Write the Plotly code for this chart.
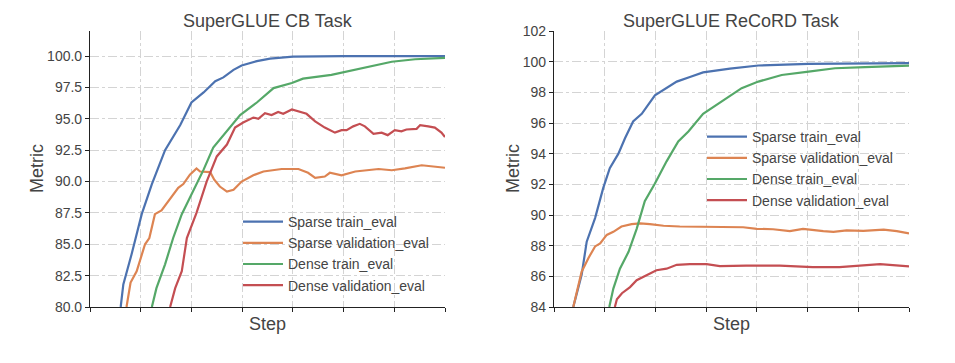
import plotly.graph_objects as go

# ---------------- data (x in grid-step units; step labels hidden) ----------------
cb_sparse_train_x = [0.605, 0.657, 0.82, 1.02, 1.22, 1.48, 1.78, 2.0, 2.24, 2.47, 2.63, 2.83, 2.99, 3.29, 3.55, 4.0, 5.0, 6.0, 7.0]
cb_sparse_train_y = [80.0, 81.8, 84.2, 87.4, 89.8, 92.5, 94.5, 96.3, 97.1, 98.0, 98.3, 98.9, 99.25, 99.6, 99.8, 99.95, 100.0, 100.0, 100.0]

cb_sparse_val_x = [0.72, 0.80, 0.92, 1.02, 1.085, 1.17, 1.28, 1.41, 1.58, 1.74, 1.84, 1.97, 2.10, 2.17, 2.37, 2.45, 2.56, 2.70, 2.83, 2.99, 3.22, 3.42, 3.78, 4.11, 4.30, 4.44, 4.63, 4.73, 4.96, 5.23, 5.69, 5.95, 6.21, 6.54, 7.0]
cb_sparse_val_y = [80.0, 81.95, 82.85, 84.2, 85.0, 85.5, 87.4, 87.7, 88.6, 89.5, 89.8, 90.55, 91.05, 90.8, 90.75, 90.15, 89.6, 89.2, 89.35, 90.0, 90.5, 90.8, 91.0, 91.0, 90.7, 90.3, 90.4, 90.7, 90.5, 90.8, 91.0, 90.9, 91.05, 91.3, 91.1]

cb_dense_train_x = [1.22, 1.31, 1.48, 1.64, 1.81, 2.0, 2.24, 2.43, 2.70, 2.96, 3.29, 3.62, 3.98, 4.20, 4.76, 5.09, 5.55, 5.95, 6.41, 7.0]
cb_dense_train_y = [80.0, 81.5, 83.4, 85.5, 87.4, 89.0, 90.95, 92.7, 94.0, 95.3, 96.3, 97.45, 97.85, 98.2, 98.5, 98.8, 99.2, 99.55, 99.75, 99.85]

cb_dense_val_x = [1.58, 1.68, 1.81, 1.91, 2.10, 2.30, 2.50, 2.70, 2.86, 3.02, 3.22, 3.32, 3.45, 3.58, 3.71, 3.81, 3.98, 4.17, 4.27, 4.44, 4.63, 4.83, 4.96, 5.06, 5.19, 5.32, 5.42, 5.59, 5.75, 5.87, 6.01, 6.14, 6.24, 6.44, 6.51, 6.67, 6.80, 6.93, 7.0]
cb_dense_val_y = [80.0, 81.5, 82.85, 85.5, 87.5, 90.0, 92.0, 92.95, 94.3, 94.7, 95.1, 95.0, 95.45, 95.3, 95.55, 95.4, 95.75, 95.5, 95.4, 94.8, 94.3, 93.9, 94.1, 94.1, 94.4, 94.6, 94.4, 93.8, 93.9, 93.7, 94.1, 94.0, 94.15, 94.2, 94.5, 94.4, 94.3, 93.9, 93.55]

rc_sparse_train_x = [0.38, 0.50, 0.545, 0.645, 0.81, 0.97, 1.10, 1.27, 1.40, 1.56, 1.73, 1.99, 2.16, 2.42, 2.68, 2.94, 3.47, 4.03, 5.02, 7.0]
rc_sparse_train_y = [84.0, 85.4, 86.1, 88.26, 89.8, 91.75, 93.05, 94.0, 95.0, 96.1, 96.6, 97.8, 98.15, 98.7, 99.0, 99.3, 99.55, 99.75, 99.85, 99.9]

rc_sparse_val_x = [0.38, 0.47, 0.545, 0.68, 0.81, 0.91, 1.04, 1.17, 1.33, 1.53, 1.70, 1.89, 2.16, 2.48, 3.14, 3.73, 4.0, 4.32, 4.65, 4.91, 5.31, 5.51, 5.77, 6.10, 6.50, 6.76, 7.0]
rc_sparse_val_y = [84.0, 85.2, 86.3, 87.2, 87.95, 88.15, 88.7, 88.9, 89.25, 89.4, 89.45, 89.4, 89.3, 89.25, 89.2, 89.2, 89.1, 89.07, 88.95, 89.1, 88.95, 88.9, 89.0, 88.97, 89.05, 88.95, 88.8]

rc_dense_train_x = [1.09, 1.17, 1.30, 1.47, 1.63, 1.79, 1.99, 2.22, 2.45, 2.65, 2.94, 3.21, 3.47, 3.70, 4.03, 4.49, 5.02, 5.54, 6.13, 7.0]
rc_dense_train_y = [84.0, 85.2, 86.5, 87.6, 89.1, 90.9, 92.05, 93.5, 94.8, 95.45, 96.6, 97.2, 97.8, 98.27, 98.7, 99.13, 99.35, 99.57, 99.65, 99.74]

rc_dense_val_x = [1.20, 1.24, 1.34, 1.50, 1.63, 1.83, 2.02, 2.22, 2.42, 2.68, 3.01, 3.27, 3.79, 4.45, 5.10, 5.63, 6.10, 6.43, 7.0]
rc_dense_val_y = [84.0, 84.5, 84.9, 85.3, 85.75, 86.1, 86.4, 86.5, 86.75, 86.8, 86.8, 86.66, 86.7, 86.7, 86.6, 86.6, 86.7, 86.8, 86.65]

series_names = ["Sparse train_eval", "Sparse validation_eval", "Dense train_eval", "Dense validation_eval"]
colors = ["#4c72b0", "#dd8452", "#55a868", "#c44e52"]

cb_ticks = [80.0, 82.5, 85.0, 87.5, 90.0, 92.5, 95.0, 97.5, 100.0]
cb_ticktext = ["80.0", "82.5", "85.0", "87.5", "90.0", "92.5", "95.0", "97.5", "100.0"]
rc_ticks = [84, 86, 88, 90, 92, 94, 96, 98, 100, 102]
rc_ticktext = ["84", "86", "88", "90", "92", "94", "96", "98", "100", "102"]
step_ticks = [0, 1, 2, 3, 4, 5, 6, 7]

titles = ["SuperGLUE CB Task", "SuperGLUE ReCoRD Task"]

# ---------------- figure ----------------
W, H = 955, 363
FONT = "Liberation Sans, Arial, Helvetica, sans-serif"
TXT = "#444444"

fig = go.Figure()

cb_data = [(cb_sparse_train_x, cb_sparse_train_y), (cb_sparse_val_x, cb_sparse_val_y),
           (cb_dense_train_x, cb_dense_train_y), (cb_dense_val_x, cb_dense_val_y)]
rc_data = [(rc_sparse_train_x, rc_sparse_train_y), (rc_sparse_val_x, rc_sparse_val_y),
           (rc_dense_train_x, rc_dense_train_y), (rc_dense_val_x, rc_dense_val_y)]

for i, (xs, ys) in enumerate(cb_data):
    fig.add_trace(go.Scatter(x=xs, y=ys, mode="lines", name=series_names[i],
                             line=dict(color=colors[i], width=2.2),
                             xaxis="x", yaxis="y", legend="legend"))
for i, (xs, ys) in enumerate(rc_data):
    fig.add_trace(go.Scatter(x=xs, y=ys, mode="lines", name=series_names[i],
                             line=dict(color=colors[i], width=2.2),
                             xaxis="x2", yaxis="y2", legend="legend2"))

def px_x(p):
    return p / W

def px_y(p):
    return 1 - p / H

ax_common = dict(showline=True, linecolor="#222222", linewidth=1.1,
                 ticks="outside", ticklen=4, tickcolor="#222222", tickwidth=1,
                 showgrid=True, gridcolor="#d4d4d4", gridwidth=1, griddash="dashdot",
                 zeroline=False, mirror=False,
                 tickfont=dict(family=FONT, size=14, color=TXT))

fig.update_layout(
    width=W, height=H,
    margin=dict(l=0, r=0, t=0, b=0, autoexpand=False),
    paper_bgcolor="white", plot_bgcolor="white",
    font=dict(family=FONT, color=TXT),
    xaxis=dict(domain=[px_x(90), px_x(445)], range=[0, 7], tickvals=step_ticks,
               showticklabels=False, anchor="y", **ax_common),
    yaxis=dict(domain=[px_y(307), px_y(31)], range=[80, 102], tickvals=cb_ticks,
               ticktext=cb_ticktext, anchor="x", **ax_common),
    xaxis2=dict(domain=[px_x(554), px_x(909)], range=[0, 7], tickvals=step_ticks,
                showticklabels=False, anchor="y2", **ax_common),
    yaxis2=dict(domain=[px_y(307), px_y(31)], range=[84, 102], tickvals=rc_ticks,
                ticktext=rc_ticktext, anchor="x2", **ax_common),
    legend=dict(x=px_x(238), y=px_y(206), xanchor="left", yanchor="top",
                bgcolor="rgba(0,0,0,0)", borderwidth=0, itemwidth=40,
                font=dict(family=FONT, size=14, color=TXT), tracegroupgap=0),
    legend2=dict(x=px_x(702), y=px_y(121), xanchor="left", yanchor="top",
                 bgcolor="rgba(0,0,0,0)", borderwidth=0, itemwidth=40,
                 font=dict(family=FONT, size=14, color=TXT), tracegroupgap=0),
    showlegend=True,
)

ann = []
for t, cx in zip(titles, [267.5, 731.5]):
    ann.append(dict(text=t, x=px_x(cx), y=px_y(21), xref="paper", yref="paper",
                    xanchor="center", yanchor="middle", showarrow=False,
                    font=dict(family=FONT, size=18, color=TXT)))
for cx in [267.5, 731.5]:
    ann.append(dict(text="Step", x=px_x(cx), y=px_y(324), xref="paper", yref="paper",
                    xanchor="center", yanchor="middle", showarrow=False,
                    font=dict(family=FONT, size=18, color=TXT)))
for cx in [37, 513]:
    ann.append(dict(text="Metric", x=px_x(cx), y=px_y(169), xref="paper", yref="paper",
                    xanchor="center", yanchor="middle", showarrow=False, textangle=-90,
                    font=dict(family=FONT, size=18, color=TXT)))
fig.update_layout(annotations=ann)

fig.write_html("out.html", config={"displayModeBar": False},
               post_script="document.body.style.margin='0px';document.body.style.overflow='hidden';")
